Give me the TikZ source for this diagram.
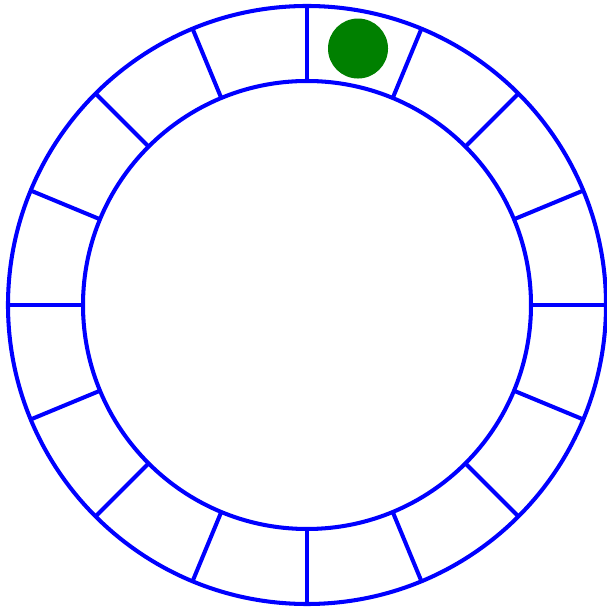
\documentclass[tikz,border=0pt]{standalone}
\usepackage{tikz}

\begin{document}
\begin{tikzpicture}[
  ring/.style={draw=blue, line width=2.3pt},
  spoke/.style={draw=blue, line width=2.3pt},
  ball/.style={circle, fill=green!50!black, inner sep=0pt, minimum size=1.2cm}
]
  \useasboundingbox (-6.14,-6.12) rectangle (5.98,6.10);
  \path[ring] (0,0) circle (5.98);
  \path[ring] (0,0) circle (4.48);
  \foreach \a in {0,22.5,...,337.5}
    \path[spoke] (\a:4.48) -- (\a:5.98);
  \node[ball] (token) at (78.75:5.23) {};
\end{tikzpicture}
\end{document}
